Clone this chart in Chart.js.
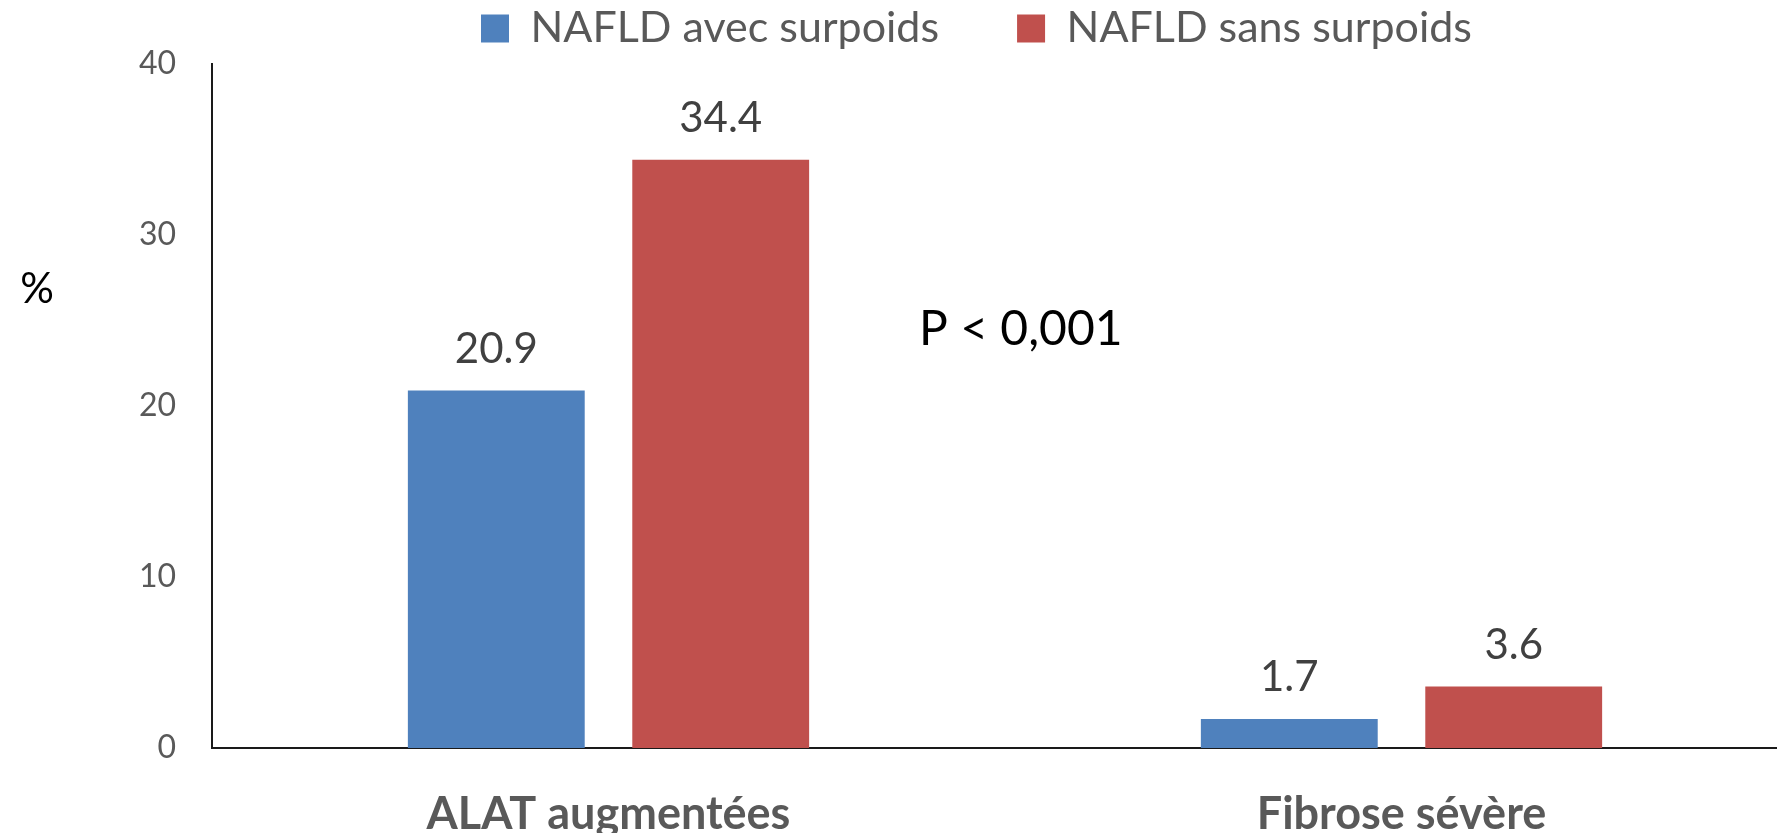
<!DOCTYPE html>
<html>
<head>
<meta charset="utf-8">
<script src="https://cdn.jsdelivr.net/npm/chart.js@4"></script>
<style>
  html, body { margin: 0; padding: 0; background: #fff; }
  #wrap { width: 1777px; height: 833px; }
</style>
</head>
<body>
<div id="wrap"><canvas id="chart" width="1777" height="833"></canvas></div>
<script>
const categories = ["ALAT augmentées", "Fibrose sévère"];
const seriesNames = ["NAFLD avec surpoids", "NAFLD sans surpoids"];
const avecSurpoids = [20.9, 1.7];
const sansSurpoids = [34.4, 3.6];
const yTicks = [0, 10, 20, 30, 40];

const FONT = "Lato, 'Open Sans', sans-serif";
const LEGEND_GAP = 78;

// valeurs au-dessus des barres
const valueLabels = {
  id: "valueLabels",
  afterDatasetsDraw(chart) {
    const ctx = chart.ctx;
    ctx.save();
    ctx.font = "42px " + FONT;
    ctx.fillStyle = "#404040";
    ctx.textAlign = "center";
    ctx.textBaseline = "bottom";
    chart.data.datasets.forEach((ds, i) => {
      chart.getDatasetMeta(i).data.forEach((bar, j) => {
        ctx.fillText(ds.data[j].toFixed(1), bar.x, bar.y - 20);
      });
    });
    ctx.restore();
  }
};

// "%" et "P < 0,001"
const annotations = {
  id: "annotations",
  afterDraw(chart) {
    const ctx = chart.ctx;
    const x = chart.scales.x, y = chart.scales.y;
    ctx.save();
    ctx.fillStyle = "#000";
    ctx.textBaseline = "middle";
    ctx.textAlign = "center";
    ctx.font = "42px " + FONT;
    ctx.fillText("%", 37, y.getPixelForValue(26.8));
    ctx.font = "48px " + FONT;
    ctx.fillText("P < 0,001", x.getPixelForValue(0.52), y.getPixelForValue(24.5));
    ctx.restore();
  }
};

// légende à hauteur fixe + axe x prolongé au-delà du bord droit
const layoutTweaks = {
  id: "layoutTweaks",
  beforeInit(chart) {
    const fit = chart.legend.fit;
    chart.legend.fit = function () {
      fit.bind(chart.legend)();
      this.height = 64;
    };
  },
  afterLayout(chart) {
    const lg = chart.legend;
    lg.top = 7 - LEGEND_GAP;
    lg.left += 88;
    lg.right += 88;

    const x = chart.scales.x;
    x.right += 21;
    x.width += 21;
    x.configure();
  }
};

new Chart(document.getElementById("chart"), {
  type: "bar",
  data: {
    labels: categories,
    datasets: [
      { label: seriesNames[0], data: avecSurpoids, backgroundColor: "#4F81BD" },
      { label: seriesNames[1], data: sansSurpoids, backgroundColor: "#C0504D" }
    ]
  },
  options: {
    responsive: false,
    animation: false,
    devicePixelRatio: 1,
    categoryPercentage: 0.566,
    barPercentage: 0.788,
    plugins: {
      tooltip: { enabled: false },
      legend: {
        position: "top",
        labels: {
          boxWidth: 28,
          boxHeight: 28,
          padding: LEGEND_GAP,
          color: "#595959",
          font: { family: FONT, size: 43 }
        }
      }
    },
    scales: {
      x: {
        afterFit(s) { s.height = 85; },
        grid: { display: false, drawTicks: false },
        border: { display: true, color: "#1a1a1a", width: 2 },
        ticks: {
          color: "#595959",
          padding: 46,
          font: { family: FONT, size: 45, weight: "bold", lineHeight: 0.9 }
        }
      },
      y: {
        min: 0,
        max: 40,
        afterFit(s) { s.width = 212; },
        afterBuildTicks(s) { s.ticks = yTicks.map(v => ({ value: v })); },
        grid: { display: false, drawTicks: false },
        border: { display: true, color: "#1a1a1a", width: 2 },
        ticks: {
          color: "#595959",
          padding: 36,
          font: { family: FONT, size: 32 }
        }
      }
    }
  },
  plugins: [valueLabels, annotations, layoutTweaks]
});
</script>
</body>
</html>
